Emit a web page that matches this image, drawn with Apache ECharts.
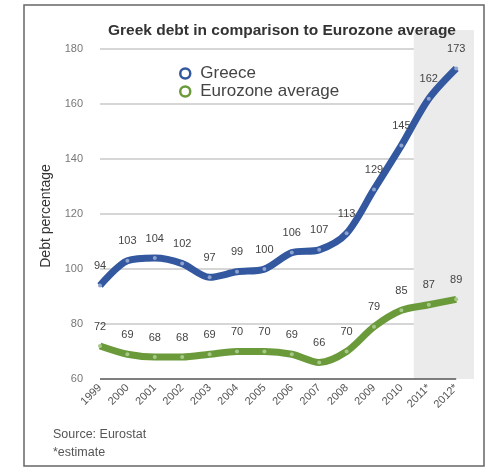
<!DOCTYPE html>
<html><head><meta charset="utf-8">
<script src="https://cdn.jsdelivr.net/npm/echarts@6/dist/echarts.min.js"></script>
<style>html,body{margin:0;padding:0;background:#fff}#c{width:500px;height:469px}</style>
</head><body><div id="c"></div>
<script>
const yearLabels = ['1999','2000','2001','2002','2003','2004','2005','2006','2007','2008','2009','2010','2011*','2012*'];
const greece = [94,103,104,102,97,99,100,106,107,113,129,145,162,173];
const eurozone = [72,69,68,68,69,70,70,69,66,70,79,85,87,89];
const yTicks = [60,80,100,120,140,160,180];
const estimateFrom = 2010.45, estimateTo = 2012.65;

const yearNum = yearLabels.map(s => parseInt(s, 10));
const toPairs = arr => arr.map((v, i) => [yearNum[i], v]);

const chart = echarts.init(document.getElementById('c'), null, {renderer: 'canvas'});
const blue = '#34589f', green = '#6b9a3a';
chart.setOption({
  animation: false,
  backgroundColor: '#fff',
  title: {
    text: 'Greek debt in comparison to Eurozone average',
    left: 277, top: 18, textAlign: 'center',
    textStyle: {fontFamily: 'Liberation Sans', fontWeight: 'bold', fontSize: 15.5, color: '#333'}
  },
  legend: {
    orient: 'vertical', left: 174, top: 60, itemGap: 1, itemWidth: 10, itemHeight: 10,
    textStyle: {fontFamily: 'Liberation Sans', fontSize: 17, color: '#444', padding: [0, 0, 0, 5]},
    data: [
      {name: 'Greece', icon: 'circle', itemStyle: {color: '#fff', borderColor: blue, borderWidth: 2.5}},
      {name: 'Eurozone average', icon: 'circle', itemStyle: {color: '#fff', borderColor: green, borderWidth: 2.5}}
    ]
  },
  grid: {left: 100, right: 26, top: 30, bottom: 90},
  xAxis: {
    type: 'value', min: yearNum[0], max: estimateTo, interval: 1,
    axisLine: {show: false}, axisTick: {show: false}, splitLine: {show: false},
    axisLabel: {
      rotate: 45, margin: 7, fontSize: 11, color: '#555', fontFamily: 'Liberation Sans',
      showMaxLabel: false,
      formatter: v => { const i = yearNum.indexOf(v); return i >= 0 ? yearLabels[i] : ''; }
    }
  },
  yAxis: {
    type: 'value', min: yTicks[0], max: 187, interval: 20,
    name: 'Debt percentage', nameLocation: 'middle', nameGap: 47, nameRotate: 90,
    nameTextStyle: {fontFamily: 'Liberation Sans', fontSize: 14, color: '#333', padding: [0, 23, 0, 0]},
    axisLine: {show: false}, axisTick: {show: false},
    axisLabel: {margin: 17, fontSize: 11, color: '#777', fontFamily: 'Liberation Sans', showMaxLabel: false,
      formatter: v => yTicks.indexOf(v) >= 0 ? String(v) : ''},
    splitLine: {show: true, showMaxLine: false, showMinLine: false, lineStyle: {color: '#c9c9c9', width: 1.5}}
  },
  graphic: [{
    type: 'rect', shape: {x: 24, y: 5, width: 460, height: 461}, z: 100,
    style: {fill: 'none', stroke: '#666', lineWidth: 1.5}
  }, {
    type: 'text', left: 53, top: 428, z: 100,
    style: {text: 'Source: Eurostat', font: '12.5px "Liberation Sans"', fill: '#555'}
  }, {
    type: 'text', left: 53, top: 446, z: 100,
    style: {text: '*estimate', font: '12.5px "Liberation Sans"', fill: '#555'}
  }],
  series: [{
    name: 'Greece', type: 'line', data: toPairs(greece), smooth: 0.3,
    symbol: 'circle', symbolSize: 4, z: 5,
    lineStyle: {color: blue, width: 7},
    itemStyle: {color: '#8ea3cf', borderWidth: 0},
    label: {show: true, position: 'top', distance: 12, fontSize: 11, color: '#444', fontFamily: 'Liberation Sans'},
    markArea: {
      silent: true, z: 0,
      itemStyle: {color: '#ebebeb'},
      data: [[{xAxis: estimateFrom, yAxis: 187}, {xAxis: estimateTo, yAxis: yTicks[0]}]]
    },
    markLine: {
      silent: true, symbol: 'none', label: {show: false},
      lineStyle: {color: '#555', width: 1.5, type: 'solid'},
      data: [[{coord: [yearNum[0], yTicks[0]]}, {coord: [yearNum[yearNum.length - 1], yTicks[0]]}]]
    }
  }, {
    name: 'Eurozone average', type: 'line', data: toPairs(eurozone), smooth: 0.3,
    symbol: 'circle', symbolSize: 4, z: 4,
    lineStyle: {color: green, width: 7},
    itemStyle: {color: '#a6c98a', borderWidth: 0},
    label: {show: true, position: 'top', distance: 12, fontSize: 11, color: '#444', fontFamily: 'Liberation Sans'}
  }]
});
</script></body></html>
